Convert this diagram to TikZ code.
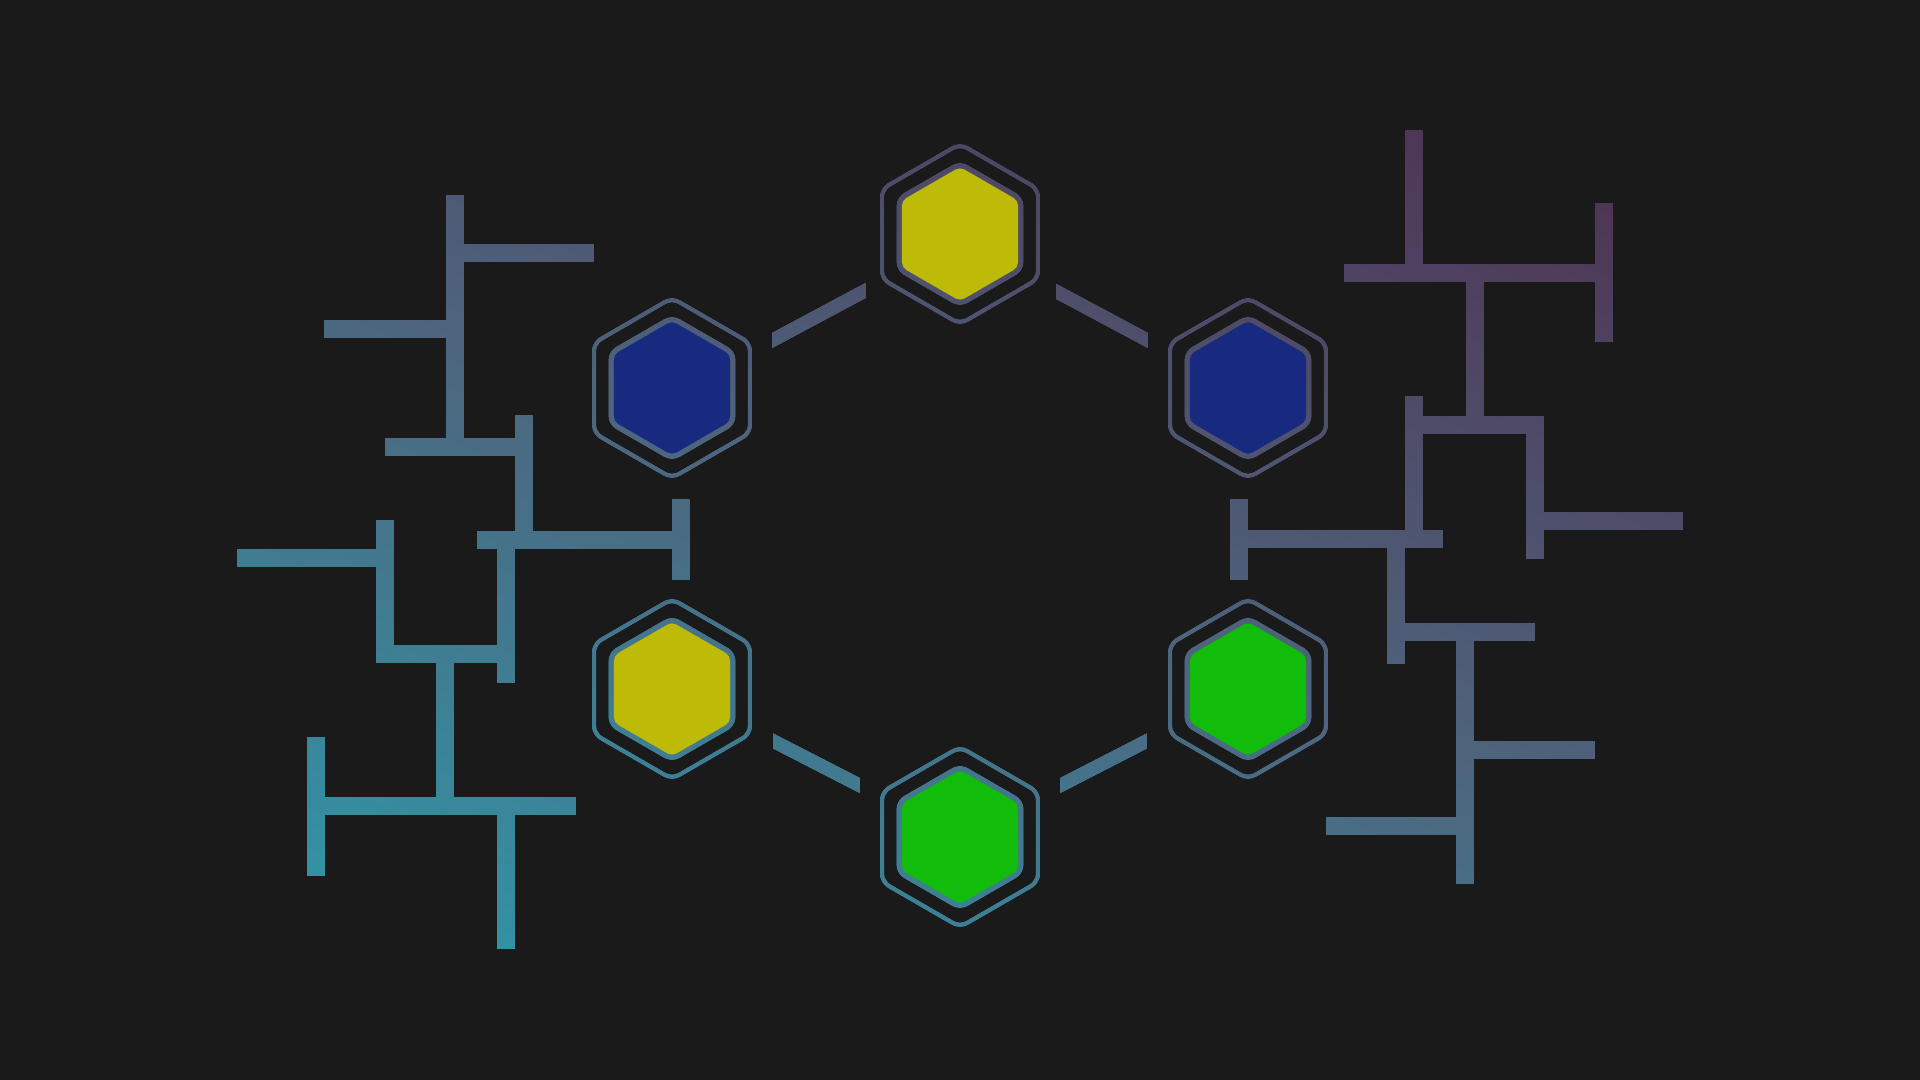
\documentclass[tikz,border=0pt]{standalone}
\usetikzlibrary{shapes.geometric}
\definecolor{bgc}{RGB}{26,26,26}
\definecolor{hyel}{RGB}{189,186,8}
\definecolor{hblu}{RGB}{23,42,128}
\definecolor{hgrn}{RGB}{18,188,10}
\definecolor{gcy}{RGB}{46,154,171}
\definecolor{gmid}{RGB}{78,100,125}
\definecolor{gpu}{RGB}{78,46,79}
\pgfdeclareverticalshading{mygrad}{100bp}{color(0bp)=(gcy); color(38.86bp)=(gcy); color(50bp)=(gmid); color(61.14bp)=(gpu); color(100bp)=(gpu)}
\tikzset{
  hexbase/.style={regular polygon, regular polygon sides=6, shape border rotate=30, inner sep=0pt},
  hexo/.style={hexbase, minimum size=1.8cm, draw=white, line width=0.045cm, rounded corners=0.08cm},
  hexi/.style={hexbase, minimum size=1.4cm, draw=white, line width=0.06cm, rounded corners=0.07cm},
  hexf/.style={hexbase, minimum size=1.34cm, draw=none, rounded corners=0.05cm},
  tree/.style={draw=white, line width=0.18cm},
  conn/.style={draw=white, line width=0.14cm},
  vconn/.style={draw=white, line width=0.18cm},
}
\begin{document}
\begin{tikzpicture}[x=0.01cm, y=-0.01cm]
\useasboundingbox (0,0) rectangle (1920,1080);
% phase 1: black ground, white shapes
\fill[black] (0,0) rectangle (1920,1080);
% hexagon nodes
\foreach \n/\x/\y in {top/960/234, ul/672/388, ur/1248/388, ll/672/689, lr/1248/689, bot/960/837}{
  \node[hexo] (\n) at (\x,\y) {};
  \node[hexi] (\n in) at (\x,\y) {};
}
% connectors between hexagons
\begin{scope}\clip (772,0) rectangle (866,1080);
  \draw[conn] ([yshift=-0.06cm]top.center) -- ([yshift=-0.06cm]ul.center);
\end{scope}
\begin{scope}\clip (1056,0) rectangle (1148,1080);
  \draw[conn] ([yshift=-0.06cm]top.center) -- ([yshift=-0.06cm]ur.center);
\end{scope}
\begin{scope}\clip (773,0) rectangle (860,1080);
  \draw[conn] (ll.center) -- (bot.center);
\end{scope}
\begin{scope}\clip (1060,0) rectangle (1147,1080);
  \draw[conn] (bot.center) -- (lr.center);
\end{scope}
\begin{scope}\clip (0,500) rectangle (1920,580);
  \draw[vconn] ([xshift=0.09cm]ul.center) -- ([xshift=0.09cm]ll.center);
  \draw[vconn] ([xshift=-0.09cm]ur.center) -- ([xshift=-0.09cm]lr.center);
\end{scope}
% left tree
\draw[tree] (455,195) -- (455,447);
\draw[tree] (455,253) -- (594,253);
\draw[tree] (324,329) -- (455,329);
\draw[tree] (385,447) -- (524,447);
\draw[tree] (524,415) -- (524,540);
\draw[tree] (477,540) -- (681,540);
\draw[tree] (506,540) -- (506,683);
\draw[tree] (376,654) -- (506,654);
\draw[tree] (385,520) -- (385,663);
\draw[tree] (237,558) -- (385,558);
\draw[tree] (445,654) -- (445,806);
\draw[tree] (316,806) -- (576,806);
\draw[tree] (316,737) -- (316,876);
\draw[tree] (506,806) -- (506,949);
% right tree
\draw[tree] (1414,130) -- (1414,273);
\draw[tree] (1344,273) -- (1604,273);
\draw[tree] (1604,203) -- (1604,342);
\draw[tree] (1475,273) -- (1475,425);
\draw[tree] (1414,425) -- (1535,425);
\draw[tree] (1414,396) -- (1414,539);
\draw[tree] (1535,416) -- (1535,559);
\draw[tree] (1535,521) -- (1683,521);
\draw[tree] (1239,539) -- (1443,539);
\draw[tree] (1396,539) -- (1396,664);
\draw[tree] (1396,632) -- (1535,632);
\draw[tree] (1465,632) -- (1465,884);
\draw[tree] (1465,750) -- (1595,750);
\draw[tree] (1326,826) -- (1465,826);
% phase 2: colour gradient multiplied in (one shading)
\shade[shading=mygrad, shading angle=-22.95, blend mode=multiply] (-684.8,-1018.1) rectangle (2315.2,1981.9);
% phase 3: lift background
\fill[bgc, blend mode=lighten] (0,0) rectangle (1920,1080);
% phase 4: hexagon fills
\node[hexf, fill=hyel] (topf) at (top.center) {};
\node[hexf, fill=hblu] (ulf) at (ul.center) {};
\node[hexf, fill=hblu] (urf) at (ur.center) {};
\node[hexf, fill=hyel] (llf) at (ll.center) {};
\node[hexf, fill=hgrn] (lrf) at (lr.center) {};
\node[hexf, fill=hgrn] (botf) at (bot.center) {};
\end{tikzpicture}
\end{document}
